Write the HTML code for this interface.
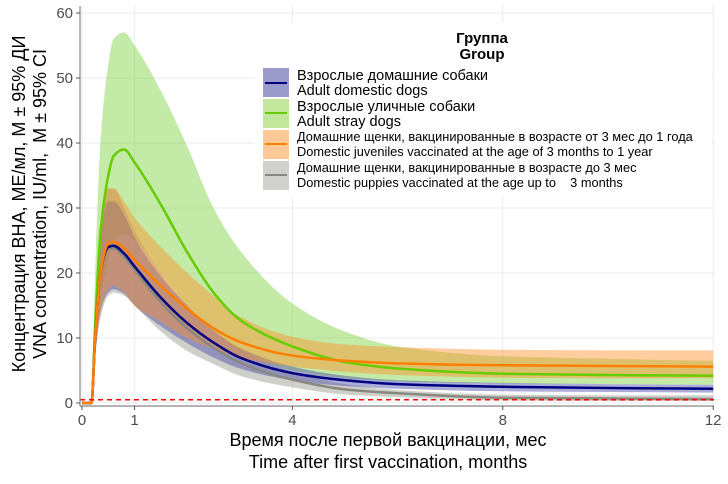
<!DOCTYPE html>
<html><head><meta charset="utf-8"><style>
body{margin:0;background:#fff;}
svg{display:block;font-family:"Liberation Sans","DejaVu Sans",sans-serif;}
</style></head><body>
<svg id="chart" width="728" height="484">
<g id="grid"></g>
<g id="bands"></g>
<g id="lines"></g>
<line id="thr" stroke="#ff0000" stroke-width="1.5" stroke-dasharray="5,4"></line>
<g id="axes"></g>
<g>
<rect x="255" y="22" width="457" height="176" fill="#fff"></rect>
<text x="482" y="43" text-anchor="middle" font-size="15" font-weight="bold">Группа</text>
<text x="482" y="59" text-anchor="middle" font-size="15" font-weight="bold">Group</text>
<g>
<rect x="263" y="68" width="26" height="29" fill="#9a9acb"></rect><line x1="265" x2="287" y1="83" y2="83" stroke="#000080" stroke-width="2"></line>
<text x="297" y="80" font-size="14.5">Взрослые домашние собаки</text><text x="297" y="95" font-size="14.5">Adult domestic dogs</text></g>
<g>
<rect x="263" y="99" width="26" height="29" fill="#c3e79d"></rect><line x1="265" x2="287" y1="113" y2="113" stroke="#66cc00" stroke-width="2"></line>
<text x="297" y="111" font-size="14.5">Взрослые уличные собаки</text><text x="297" y="126" font-size="14.5">Adult stray dogs</text></g>
<g>
<rect x="263" y="130" width="26" height="29" fill="#ffc997"></rect><line x1="265" x2="287" y1="144" y2="144" stroke="#ff7f00" stroke-width="2"></line>
<text x="297" y="141" font-size="12.8">Домашние щенки, вакцинированные в возрасте от 3 мес до 1 года</text><text x="297" y="156" font-size="12.8">Domestic juveniles vaccinated at the age of 3 months to 1 year</text></g>
<g>
<rect x="263" y="161" width="26" height="29" fill="#d0d0cc"></rect><line x1="265" x2="287" y1="175" y2="175" stroke="#888880" stroke-width="2"></line>
<text x="297" y="172" font-size="12.8">Домашние щенки, вакцинированные в возрасте до 3 мес</text><text x="297" y="187" font-size="12.8">Domestic puppies vaccinated at the age up to &#160;&#160;&#160;3 months</text></g>
</g>
<g font-size="18" text-anchor="middle" fill="#000">
<text x="388" y="446">Время после первой вакцинации, мес</text>
<text x="388" y="468">Time after first vaccination, months</text></g>
<g font-size="18" text-anchor="middle" fill="#000">
<text transform="translate(25,204) rotate(-90)">Концентрация ВНА, МЕ/мл, M ± 95% ДИ</text>
<text transform="translate(46,204) rotate(-90)">VNA concentration, IU/ml, &#160;M ± 95% CI</text></g>
</svg>
<script>
const times=[0,0.18,0.25,0.35,0.5,0.6,0.8,1,1.5,2,2.5,3,4,5,6,8,10,12];
const greenMean=[0,0,12,26,35,38,39,37,30.5,23.2,17,12.8,8.7,6.3,5.3,4.5,4.3,4.2];
const greenHi=[0,0,20,40,52,56,57,55,48,39.5,30,23.5,15.3,11,8.7,7.2,6.8,6.5];
const greenLo=[0,0,8,16,22,25,26,25,20,15,11,8,5,3.8,3.3,3,2.9,2.8];
const orangeMean=[0,0,10,20,24.5,24.8,23.8,22,18,14.5,11.5,9.4,7.3,6.5,6.1,5.8,5.7,5.6];
const orangeHi=[0,0,14,28,33,33,31,28.5,24,20,16.5,13.3,10.2,9,8.6,8.2,8.1,8.1];
const orangeLo=[0,0,7,14,17.5,18,17,15,12.5,10,8.3,7,5.6,4.8,4.3,3.9,3.8,3.8];
const blueMean=[0,0,10,20,24,24.2,23,21,16.2,12.3,9.3,7,4.6,3.5,2.9,2.5,2.3,2.2];
const blueHi=[0,0,13,26,31,31,29,25.5,19.5,15,11.2,8.5,5.6,4.2,3.5,3.1,2.9,2.8];
const blueLo=[0,0,7,14,17,17.5,16.8,15,11.8,9.2,7,5.3,3.5,2.6,2.2,1.8,1.7,1.6];
const grayMean=[0,0,10,20,23.8,23.8,22.5,20.5,15.5,11.5,8.5,6.2,3.6,2.1,1.5,0.8,0.7,0.6];
const grayHi=[0,0,14,28,33,33,30,26.5,20,15,11,8.2,4.8,2.9,2,1.3,1.2,1.2];
const grayLo=[0,0,7,13,16.5,17,16.5,15,11,8,6,4.2,2.4,1.3,0.9,0.4,0.3,0.3];
const xTicks=[0,1,4,8,12];
const yTicks=[0,10,20,30,40,50,60];
const threshold=0.5;

const NS="http://www.w3.org/2000/svg";
const X0=80,X1=714,Y0=406,Y1=6;
const xs=t=>82+t*52.6;
const ys=v=>403-v*6.5;
function mk(tag,attrs,parent){const e=document.createElementNS(NS,tag);for(const k in attrs)e.setAttribute(k,attrs[k]);parent.appendChild(e);return e;}
function mono(px,py,start){const n=px.length;const d=[],m=new Array(n);
for(let i=0;i<n-1;i++)d.push((py[i+1]-py[i])/(px[i+1]-px[i]));
m[0]=d[0];m[n-1]=d[n-2];
for(let i=1;i<n-1;i++){if(d[i-1]*d[i]<=0)m[i]=0;else{const w1=2*(px[i+1]-px[i])+(px[i]-px[i-1]),w2=(px[i+1]-px[i])+2*(px[i]-px[i-1]);m[i]=(w1+w2)/(w1/d[i-1]+w2/d[i]);}}
let s=(start?'M':'L')+px[0]+','+py[0];
for(let i=0;i<n-1;i++){const h=(px[i+1]-px[i])/3;s+='C'+(px[i]+h)+','+(py[i]+m[i]*h)+' '+(px[i+1]-h)+','+(py[i+1]-m[i+1]*h)+' '+px[i+1]+','+py[i+1];}
return s;}
const grid=document.getElementById('grid'),bands=document.getElementById('bands'),lines=document.getElementById('lines'),axes=document.getElementById('axes');
yTicks.forEach(v=>{const l=mk('line',{x1:X0,x2:X1,y1:ys(v),y2:ys(v),stroke:'#ebebeb','stroke-width':1},grid);

});
xTicks.forEach(v=>{const l=mk('line',{x1:xs(v),x2:xs(v),y1:Y1,y2:Y0,stroke:'#ebebeb','stroke-width':1},grid);

});
const PX=times.map(xs);
function band(hi,lo,fill,name){const rx=PX.slice().reverse();
let d=mono(PX,hi.map(ys),true)+mono(rx,lo.slice().reverse().map(ys),false)+'Z';
const p=mk('path',{d:d,fill:fill,stroke:'none'},bands);

}
function line(m,color,name){const p=mk('path',{d:mono(PX,m.map(ys),true),fill:'none',stroke:color,'stroke-width':2.5,'stroke-linejoin':'round'},lines);

}
band(greenHi,greenLo,'rgba(124,208,60,0.45)','band-stray');
band(grayHi,grayLo,'rgba(150,150,140,0.45)','band-puppies');
band(blueHi,blueLo,'rgba(70,70,170,0.45)','band-domestic');
band(orangeHi,orangeLo,'rgba(255,145,40,0.45)','band-juveniles');
line(greenMean,'#66cc00','line-stray');
line(grayMean,'#888880','line-puppies');
line(blueMean,'#000080','line-domestic');
line(orangeMean,'#ff7f00','line-juveniles');
const thr=document.getElementById('thr');
thr.setAttribute('x1',X0);thr.setAttribute('x2',X1);thr.setAttribute('y1',ys(threshold));thr.setAttribute('y2',ys(threshold));
mk('line',{x1:X0,x2:X0,y1:Y1,y2:Y0,stroke:'#888','stroke-width':1.2},axes);
mk('line',{x1:X0,x2:X1,y1:Y0,y2:Y0,stroke:'#888','stroke-width':1.2},axes);
yTicks.forEach(v=>{mk('line',{x1:X0-4,x2:X0,y1:ys(v),y2:ys(v),stroke:'#555'},axes);
const t=mk('text',{x:X0-7,y:ys(v)+5,'text-anchor':'end','font-size':15,fill:'#4d4d4d'},axes);t.textContent=v;

});
xTicks.forEach(v=>{mk('line',{x1:xs(v),x2:xs(v),y1:Y0,y2:Y0+4,stroke:'#555'},axes);
const t=mk('text',{x:xs(v),y:Y0+19,'text-anchor':'middle','font-size':15,fill:'#4d4d4d'},axes);t.textContent=v;

});
</script>
</body></html>
